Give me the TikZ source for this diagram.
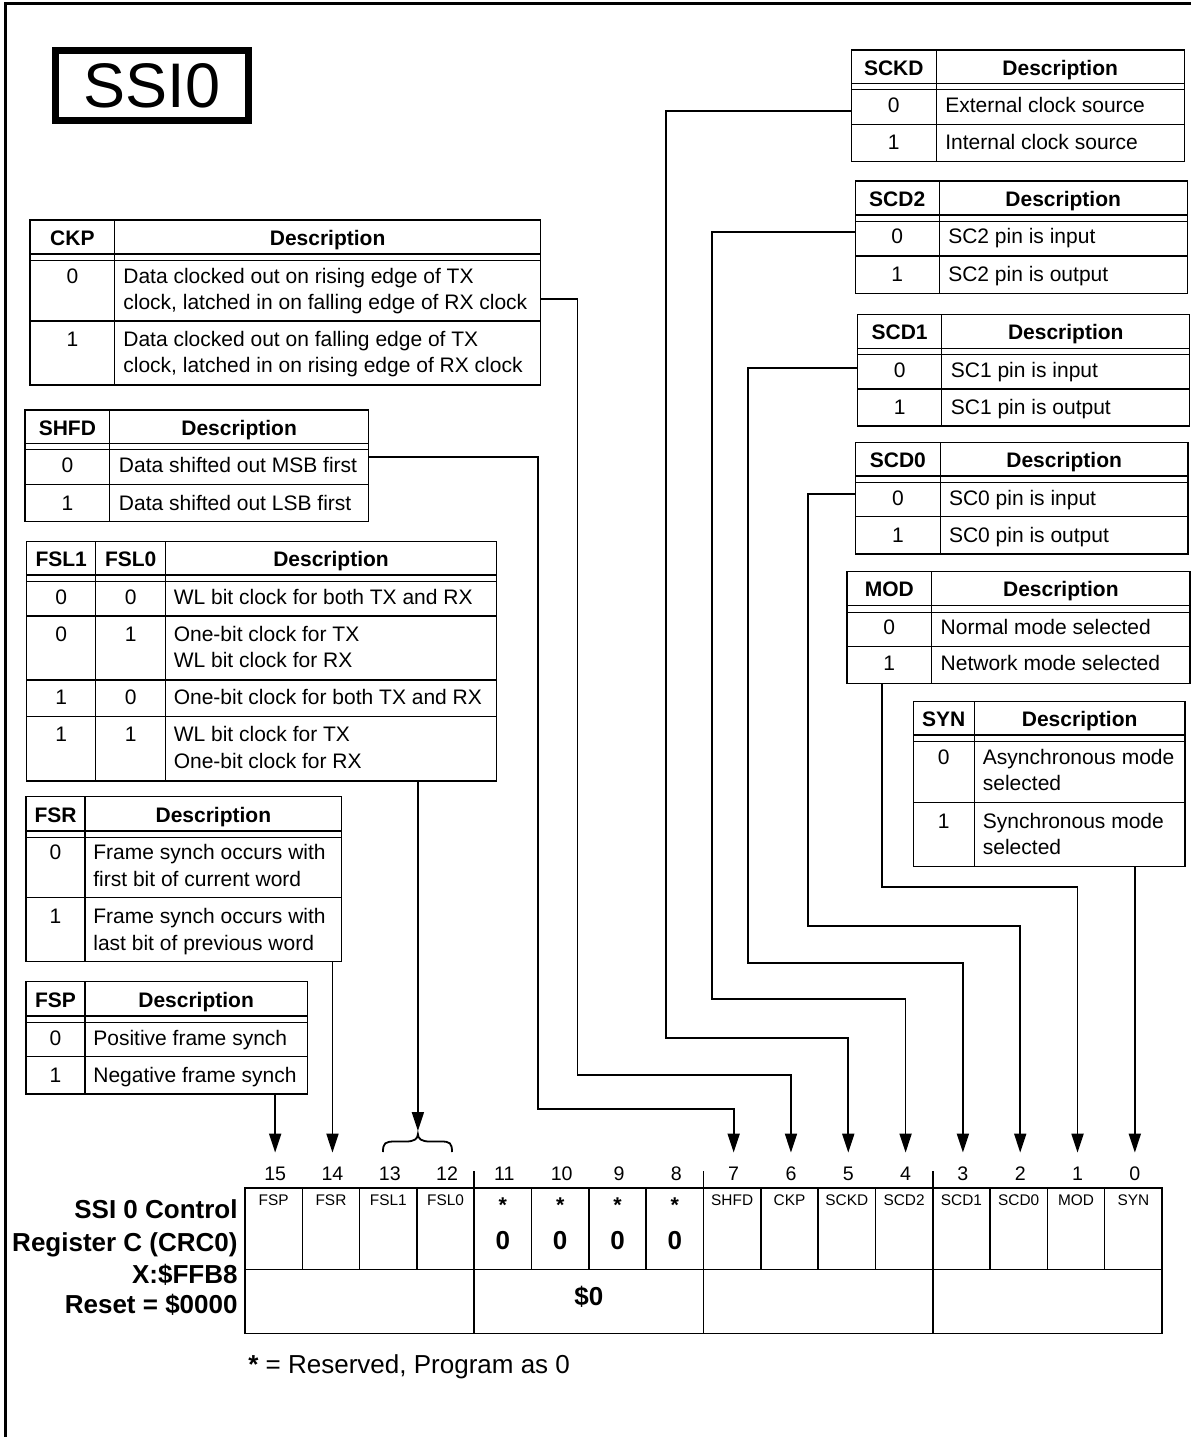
\documentclass[tikz,border=0pt]{standalone}
\usepackage{fontspec}
\setmainfont{Liberation Sans}
\usetikzlibrary{arrows.meta}
\newcount\txtcount
\newcommand\hd[3]{\global\advance\txtcount by 1\relax\node[htxt] (tt\the\txtcount) at (#1,#2+7.5) {#3};}
\newcommand\tc[3]{\global\advance\txtcount by 1\relax\node[ctxt] (tt\the\txtcount) at (#1,#2+7.5) {#3};}
\newcommand\tl[3]{\global\advance\txtcount by 1\relax\node[ltxt] (tt\the\txtcount) at (#1,#2+7.5) {#3};}
% name, xl, yt, xr, yb, y header bottom
\newcommand\tabframe[6]{%
  \node[tabbox, minimum width={(#4-#2)*0.5pt}, minimum height={(#5-#3)*0.5pt}] (#1) at ({(#2+#4)/2},{(#3+#5)/2}) {};
  \draw[tabline] (#2,#6) -- (#4,#6) (#2,#6+6.5) -- (#4,#6+6.5);}
\tikzset{
  tabbox/.style={draw, line width=0.65pt, inner sep=0pt, outer sep=0pt},
  tabline/.style={line width=0.65pt},
  conn/.style={line width=0.9pt},
  arr/.style={conn, -{Triangle[length=9.5pt,width=6pt]}},
  ltxt/.style={anchor=base west, inner sep=0pt, font=\fontsize{10.5}{12}\selectfont},
  ctxt/.style={ltxt, anchor=base},
  htxt/.style={ctxt, font=\fontsize{10.5}{12}\selectfont\bfseries},
  regline/.style={line width=0.8pt},
  regcell/.style={draw, line width=0.8pt, inner sep=0pt, outer sep=0pt, minimum width=28.65625pt, minimum height=40.65pt},
  reggroup/.style={draw, line width=0.8pt, inner sep=0pt, outer sep=0pt, minimum width=114.625pt, minimum height=32pt},
  regname/.style={anchor=base, inner sep=0pt, font=\fontsize{7.7}{9}\selectfont},
  regstar/.style={anchor=base, inner sep=0pt, font=\fontsize{10.7}{12}\selectfont\bfseries},
  regzero/.style={anchor=base, inner sep=0pt, font=\fontsize{13}{15}\selectfont\bfseries},
  bitnum/.style={anchor=base, inner sep=0pt, text height=13.5pt, text depth=0pt, font=\fontsize{9.8}{11}\selectfont},
  reglabel/.style={anchor=base east, inner sep=0pt, font=\fontsize{13}{15}\selectfont\bfseries},
}
\begin{document}
\begin{tikzpicture}[x=0.5pt,y=-0.5pt]
\useasboundingbox (0,0) rectangle (1191,1437);
% outer frame
\draw[line width=1.2pt] (5.5,1437) -- (5.5,3.5) -- (1191,3.5);
% title
\node[draw, line width=3.5pt, inner sep=0pt, minimum width=96.8pt, minimum height=35.15pt,
      font=\fontsize{31.5}{34}\selectfont] (title) at (152,85.35) {SSI0};

% ---------- CKP ----------
\tabframe{ckp}{29.9}{220}{540.4}{385}{254}
\draw[tabline] (114.8,220) -- (114.8,385) (29.9,321) -- (540.4,321);
\hd{72.35}{238}{CKP} \hd{327.6}{238}{Description}
\tc{72.35}{276}{0} \tl{123}{276}{Data clocked out on rising edge of TX}
\tl{123}{301.7}{clock, latched in on falling edge of RX clock}
\tc{72.35}{339}{1} \tl{123}{339}{Data clocked out on falling edge of TX}
\tl{123}{365}{clock, latched in on rising edge of RX clock}

% ---------- SHFD ----------
\tabframe{shfd}{24.9}{410}{368.5}{521.7}{443.3}
\draw[tabline] (109.8,410) -- (109.8,521.7) (24.9,484.3) -- (368.5,484.3);
\hd{67.35}{428}{SHFD} \hd{239.15}{428}{Description}
\tc{67.35}{465}{0} \tl{118.6}{465}{Data shifted out MSB first}
\tc{67.35}{502.7}{1} \tl{118.6}{502.7}{Data shifted out LSB first}

% ---------- FSL ----------
\tabframe{fsl}{26.8}{541.7}{496.4}{781}{575}
\draw[tabline] (95.7,541.7) -- (95.7,781) (165.7,541.7) -- (165.7,781)
  (26.8,616) -- (496.4,616) (26.8,680) -- (496.4,680) (26.8,716.7) -- (496.4,716.7);
\hd{61.25}{559.3}{FSL1} \hd{130.7}{559.3}{FSL0} \hd{331.05}{559.3}{Description}
\tc{61.25}{597.3}{0} \tc{130.7}{597.3}{0} \tl{173.4}{597.3}{WL bit clock for both TX and RX}
\tc{61.25}{634.3}{0} \tc{130.7}{634.3}{1} \tl{173.4}{634.3}{One-bit clock for TX}
\tl{173.4}{660}{WL bit clock for RX}
\tc{61.25}{697.3}{1} \tc{130.7}{697.3}{0} \tl{173.4}{697.3}{One-bit clock for both TX and RX}
\tc{61.25}{734.3}{1} \tc{130.7}{734.3}{1} \tl{173.4}{734.3}{WL bit clock for TX}
\tl{173.4}{761}{One-bit clock for RX}

% ---------- FSR ----------
\tabframe{fsr}{26}{796.7}{341.7}{961.7}{831}
\draw[tabline] (85,796.7) -- (85,961.7) (26,897.7) -- (341.7,897.7);
\hd{55.5}{815}{FSR} \hd{213.35}{815}{Description}
\tc{55.5}{851.7}{0} \tl{93}{851.7}{Frame synch occurs with}
\tl{93}{879}{first bit of current word}
\tc{55.5}{916}{1} \tl{93}{916}{Frame synch occurs with}
\tl{93}{943.3}{last bit of previous word}

% ---------- FSP ----------
\tabframe{fsp}{26}{981.7}{307.3}{1094}{1016}
\draw[tabline] (85,981.7) -- (85,1094) (26,1056.7) -- (307.3,1056.7);
\hd{55.5}{1000}{FSP} \hd{196.15}{1000}{Description}
\tc{55.5}{1037.7}{0} \tl{93}{1037.7}{Positive frame synch}
\tc{55.5}{1075}{1} \tl{93}{1075}{Negative frame synch}

% ---------- SCKD ----------
\tabframe{sckd}{851.4}{50}{1184.2}{161.7}{83.3}
\draw[tabline] (936.2,50) -- (936.2,161.7) (851.4,124.3) -- (1184.2,124.3);
\hd{893.8}{68.3}{SCKD} \hd{1060.2}{68.3}{Description}
\tc{893.8}{105}{0} \tl{944.9}{105}{External clock source}
\tc{893.8}{141.7}{1} \tl{944.9}{141.7}{Internal clock source}

% ---------- SCD2 ----------
\tabframe{scd2}{855.2}{181}{1187.2}{293.3}{215}
\draw[tabline] (939.2,181) -- (939.2,293.3) (855.2,256) -- (1187.2,256);
\hd{897.2}{199}{SCD2} \hd{1063.2}{199}{Description}
\tc{897.2}{236}{0} \tl{947.9}{236}{SC2 pin is input}
\tc{897.2}{274}{1} \tl{947.9}{274}{SC2 pin is output}

% ---------- SCD1 ----------
\tabframe{scd1}{857.4}{314.3}{1189.8}{426}{348.3}
\draw[tabline] (941.8,314.3) -- (941.8,426) (857.4,389) -- (1189.8,389);
\hd{899.6}{332.3}{SCD1} \hd{1065.8}{332.3}{Description}
\tc{899.6}{370}{0} \tl{950.5}{370}{SC1 pin is input}
\tc{899.6}{406.7}{1} \tl{950.5}{406.7}{SC1 pin is output}

% ---------- SCD0 ----------
\tabframe{scd0}{855.5}{442.3}{1188}{554}{476}
\draw[tabline] (940.3,442.3) -- (940.3,554) (855.5,516.7) -- (1188,516.7);
\hd{897.9}{460}{SCD0} \hd{1064.15}{460}{Description}
\tc{897.9}{497.7}{0} \tl{948.6}{497.7}{SC0 pin is input}
\tc{897.9}{535}{1} \tl{948.6}{535}{SC0 pin is output}

% ---------- MOD ----------
\tabframe{mod}{846.9}{571.7}{1190}{683.3}{605.7}
\draw[tabline] (931.7,571.7) -- (931.7,683.3) (846.9,646.7) -- (1190,646.7);
\hd{889.3}{589}{MOD} \hd{1060.85}{589}{Description}
\tc{889.3}{626.7}{0} \tl{940.3}{626.7}{Normal mode selected}
\tc{889.3}{663.3}{1} \tl{940.3}{663.3}{Network mode selected}

% ---------- SYN ----------
\tabframe{syn}{913.3}{701.7}{1185}{866.7}{735}
\draw[tabline] (974.3,701.7) -- (974.3,866.7) (913.3,802.3) -- (1185,802.3);
\hd{943.8}{719}{SYN} \hd{1079.65}{719}{Description}
\tc{943.8}{756.7}{0} \tl{982.5}{756.7}{Asynchronous mode}
\tl{982.5}{782.7}{selected}
\tc{943.8}{820.7}{1} \tl{982.5}{820.7}{Synchronous mode}
\tl{982.5}{846.7}{selected}

% ---------- register ----------
\foreach \b [count=\k from 0] in {15,14,...,0} {
  \node[regcell] (r\b) at ({245+(\k+0.5)*57.3125},1228.65) {};
  \node[bitnum] (n\b) at ({245+(\k+0.5)*57.3125+1.5},1180) {\b};
}
\foreach \b/\nm in {15/FSP,14/FSR,13/FSL1,12/FSL0,7/SHFD,6/CKP,5/SCKD,4/SCD2,3/SCD1,2/SCD0,1/MOD,0/SYN}
  \node[regname] (m\b) at (r\b.center |- 0,1205.5) {\nm};
\foreach \b in {11,10,9,8} {
  \node[regstar] (s\b) at (r\b.center |- 0,1212.4) {*};
  \node[regzero] (z\b) at (r\b.center |- 0,1249.3) {0};
}
\node[reggroup] (g3) at ({245+2*57.3125},1301.3) {};
\node[reggroup] (g2) at ({245+6*57.3125},1301.3) {};
\node[reggroup] (g1) at ({245+10*57.3125},1301.3) {};
\node[reggroup] (g0) at ({245+14*57.3125},1301.3) {};
\node[regzero] (dollar) at (g2.center |- 0,1305) {\$0};
\foreach \k in {4,8,12}
  \draw[regline] ({245+\k*57.3125},1171) -- ({245+\k*57.3125},1188);

% register labels
\node[reglabel] (lab1) at (238,1218) {SSI 0 Control};
\node[reglabel] (lab2) at (238,1251) {Register C (CRC0)};
\node[reglabel] (lab3) at (238,1283) {X:\$FFB8};
\node[reglabel] (lab4) at (238,1313) {Reset = \$0000};
\node[anchor=base west, inner sep=0pt, font=\fontsize{13}{15}\selectfont] (note) at (248,1373)
  {{\bfseries *} = Reserved, Program as 0};

% brace over bits 13-12
\coordinate (bracetip) at (417.9,1131);
\draw[conn] (383,1152) .. controls (383,1143) and (385,1141.5) .. (395,1141.5) -- (406,1141.5)
  .. controls (414,1141.5) and (417.9,1139) .. (417.9,1134)
  .. controls (417.9,1139) and (421.8,1141.5) .. (429.8,1141.5) -- (441,1141.5)
  .. controls (450,1141.5) and (452,1143) .. (452,1152);

% ---------- connectors ----------
\draw[arr] (n15.north |- fsp.south) -- (n15.north);
\draw[arr] (n14.north |- fsr.south) -- (n14.north);
\draw[arr] (bracetip |- fsl.south) -- (bracetip);
\draw[arr] (shfd.east |- 0,456.7) -| (537.7,1109.3) -| (n7.north);
\draw[arr] (ckp.east |- 0,299) -| (577.5,1075) -| (n6.north);
\draw[arr] (sckd.west |- 0,110.7) -| (666,1037.7) -| (n5.north);
\draw[arr] (scd2.west |- 0,232.3) -| (711.7,999.3) -| (n4.north);
\draw[arr] (scd1.west |- 0,368.3) -| (748.3,962.7) -| (n3.north);
\draw[arr] (scd0.west |- 0,494) -| (807.7,925.7) -| (n2.north);
\draw[arr] (mod.south -| 881.7,0) -- (881.7,886.7) -| (n1.north);
\draw[arr] (n0.north |- syn.south) -- (n0.north);
\end{tikzpicture}
\end{document}
